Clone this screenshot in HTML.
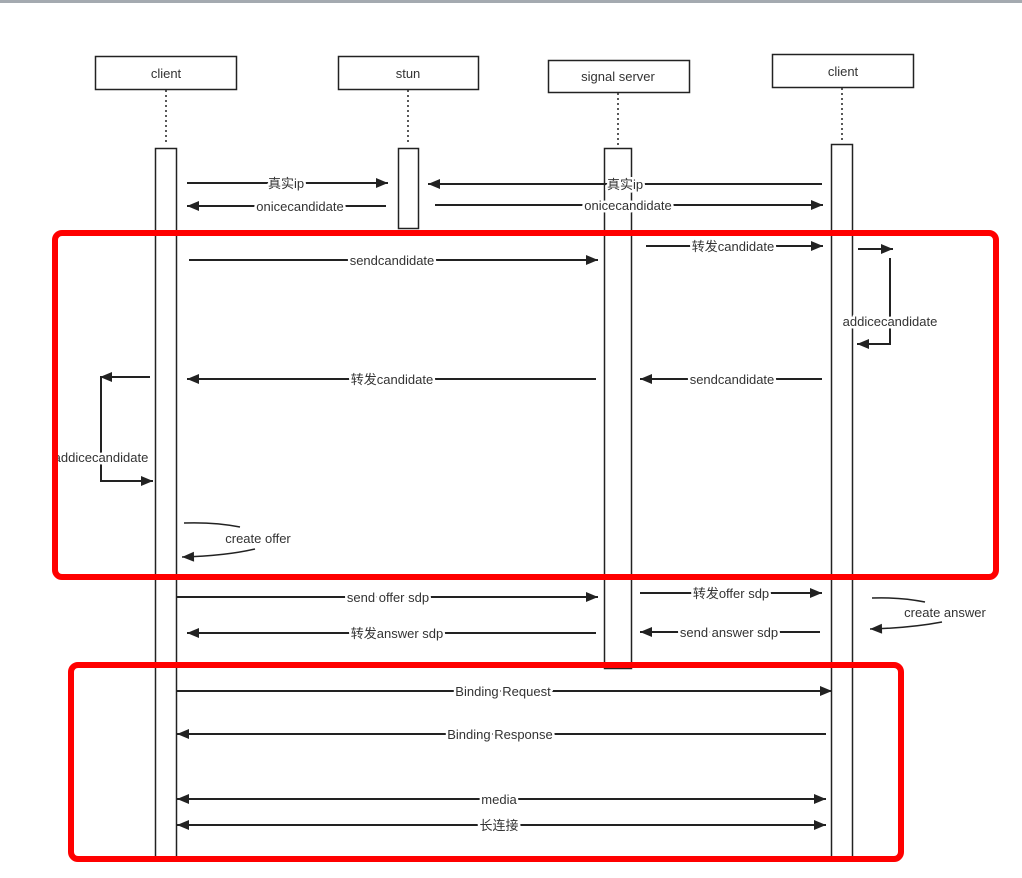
<!DOCTYPE html>
<html><head><meta charset="utf-8"><style>
html,body{margin:0;padding:0;background:#fff;}
svg{display:block;}
text{font-family:"Liberation Sans","Noto Sans CJK SC",sans-serif;font-size:13px;fill:#333;}
.l{paint-order:stroke;stroke:#fff;stroke-width:5px;stroke-linejoin:round;}
</style></head><body>
<svg width="1022" height="878" viewBox="0 0 1022 878" xmlns="http://www.w3.org/2000/svg">
<defs>
<marker id="a" viewBox="0 0 12 10" refX="12" refY="5" markerWidth="13" markerHeight="10" orient="auto-start-reverse" markerUnits="userSpaceOnUse"><path d="M0,0 L12,5 L0,10 z" fill="#222"/></marker>
</defs>
<rect x="0" y="0" width="1022" height="3" fill="#a4aab0"/>
<g fill="#fff" stroke="#222" stroke-width="1.5">
<rect x="95.5" y="56.5" width="141" height="33"/>
<rect x="338.5" y="56.5" width="140" height="33"/>
<rect x="548.5" y="60.5" width="141" height="32"/>
<rect x="772.5" y="54.5" width="141" height="33"/>
</g>
<text x="166" y="78" text-anchor="middle">client</text>
<text x="408" y="78" text-anchor="middle">stun</text>
<text x="618" y="81" text-anchor="middle">signal server</text>
<text x="843" y="76" text-anchor="middle">client</text>
<g stroke="#222" stroke-width="1.5" stroke-dasharray="2,3">
<line x1="166" y1="90" x2="166" y2="145"/>
<line x1="408" y1="90" x2="408" y2="145"/>
<line x1="618" y1="93" x2="618" y2="145"/>
<line x1="842" y1="88" x2="842" y2="141"/>
</g>
<g fill="#fff" stroke="#222" stroke-width="1.5">
<rect x="155.5" y="148.5" width="21" height="712"/>
<rect x="398.5" y="148.5" width="20" height="80"/>
<rect x="604.5" y="148.5" width="27" height="520"/>
<rect x="831.5" y="144.5" width="21" height="716"/>
</g>
<g stroke="#222" stroke-width="2" fill="none" marker-end="url(#a)">
<line x1="187" y1="183" x2="388" y2="183"/>
<line x1="822" y1="184" x2="428" y2="184"/>
<line x1="386" y1="206" x2="187" y2="206"/>
<line x1="435" y1="205" x2="823" y2="205"/>
<line x1="646" y1="246" x2="823" y2="246"/>
<line x1="858" y1="249" x2="893" y2="249"/>
<polyline points="890,258 890,344 857,344"/>
<line x1="189" y1="260" x2="598" y2="260"/>
<line x1="596" y1="379" x2="187" y2="379"/>
<line x1="822" y1="379" x2="640" y2="379"/>
<line x1="150" y1="377" x2="100" y2="377"/>
<polyline points="101,378 101,481 153,481"/>
<path d="M184,523 Q215,522 240,527" marker-end="none" stroke-width="1.5"/>
<path d="M255,549 Q225,556 182,557" stroke-width="1.5"/>
<line x1="177" y1="597" x2="598" y2="597"/>
<line x1="640" y1="593" x2="822" y2="593"/>
<path d="M872,598 Q900,597 925,602" marker-end="none" stroke-width="1.5"/>
<path d="M942,622 Q910,628 870,629" stroke-width="1.5"/>
<line x1="596" y1="633" x2="187" y2="633"/>
<line x1="820" y1="632" x2="640" y2="632"/>
<line x1="177" y1="691" x2="832" y2="691"/>
<line x1="826" y1="734" x2="177" y2="734"/>
<line x1="177" y1="799" x2="826" y2="799" marker-start="url(#a)"/>
<line x1="177" y1="825" x2="826" y2="825" marker-start="url(#a)"/>
</g>
<g class="l">
<text class="l" x="286" y="188" text-anchor="middle">真实ip</text>
<text class="l" x="625" y="189" text-anchor="middle">真实ip</text>
<text class="l" x="300" y="211" text-anchor="middle">onicecandidate</text>
<text class="l" x="628" y="210" text-anchor="middle">onicecandidate</text>
<text class="l" x="733" y="251" text-anchor="middle">转发candidate</text>
<text class="l" x="392" y="265" text-anchor="middle">sendcandidate</text>
<text class="l" x="890" y="326" text-anchor="middle">addicecandidate</text>
<text class="l" x="392" y="384" text-anchor="middle">转发candidate</text>
<text class="l" x="732" y="384" text-anchor="middle">sendcandidate</text>
<text class="l" x="101" y="462" text-anchor="middle">addicecandidate</text>
<text x="258" y="543" text-anchor="middle">create offer</text>
<text class="l" x="388" y="602" text-anchor="middle">send offer sdp</text>
<text class="l" x="731" y="598" text-anchor="middle">转发offer sdp</text>
<text x="945" y="617" text-anchor="middle">create answer</text>
<text class="l" x="397" y="638" text-anchor="middle">转发answer sdp</text>
<text class="l" x="729" y="637" text-anchor="middle">send answer sdp</text>
<text class="l" x="503" y="696" text-anchor="middle">Binding Request</text>
<text class="l" x="500" y="739" text-anchor="middle">Binding Response</text>
<text class="l" x="499" y="804" text-anchor="middle">media</text>
<text class="l" x="499" y="830" text-anchor="middle">长连接</text>
</g>
<g fill="none" stroke="#f00" stroke-width="6">
<rect x="55" y="233" width="941" height="344" rx="7"/>
<rect x="71" y="665" width="830" height="194" rx="7"/>
</g>
</svg>
</body></html>
